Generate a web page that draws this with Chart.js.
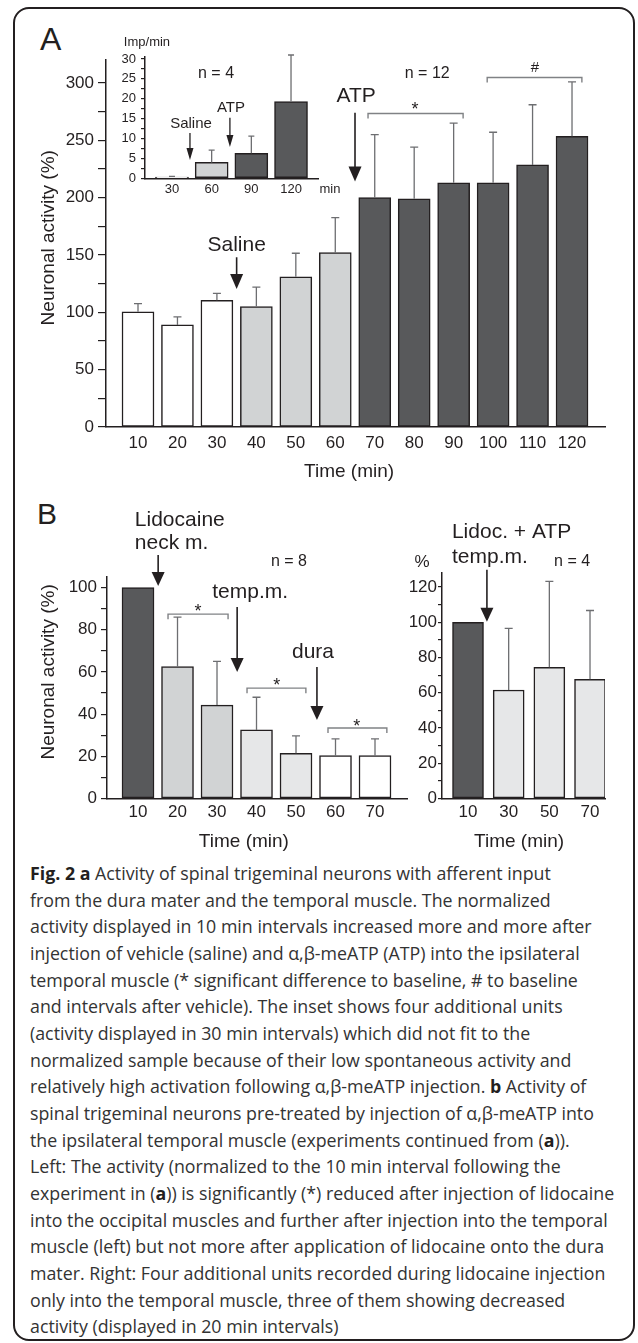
<!DOCTYPE html>
<html>
<head>
<meta charset="utf-8">
<script src="https://cdn.jsdelivr.net/npm/chart.js@4.4.1/dist/chart.umd.min.js"></script>
<style>
  html, body { margin: 0; padding: 0; background: #fff; }
  #fig { position: relative; width: 638px; height: 1343px; overflow: hidden; }
  #frame { position: absolute; left: 13px; top: 7px; width: 618px; height: 1330px;
           border: 2px solid #231f20; border-radius: 16px; }
  canvas { position: absolute; }
  .tag { position: absolute; font-family: "Liberation Sans", Arial, sans-serif;
         color: #231f20; line-height: 1; }
  #caption { position: absolute; left: 30px; top: 860px; font-family: "Open Sans", sans-serif;
             font-size: 17.8px; line-height: 26.67px; color: #333; white-space: nowrap; }
  #caption b { color: #231f20; }
</style>
</head>
<body>
<div id="fig">
  <div id="frame"></div>
  <div class="tag" style="left:40px;top:23px;font-size:32px;">A</div>
  <div class="tag" style="left:37px;top:499px;font-size:30px;">B</div>
  <canvas id="chartA" width="638" height="490" style="left:0;top:0"></canvas>
  <canvas id="chartInset" width="240" height="175" style="left:100px;top:30px"></canvas>
  <canvas id="chartBL" width="420" height="370" style="left:0;top:490px"></canvas>
  <canvas id="chartBR" width="238" height="370" style="left:400px;top:490px"></canvas>
  <div id="caption">
    <div><b>Fig. 2 a</b> Activity of spinal trigeminal neurons with afferent input</div>
    <div>from the dura mater and the temporal muscle. The normalized</div>
    <div>activity displayed in 10 min intervals increased more and more after</div>
    <div>injection of vehicle (saline) and α,β-meATP (ATP) into the ipsilateral</div>
    <div>temporal muscle (* significant difference to baseline, # to baseline</div>
    <div>and intervals after vehicle). The inset shows four additional units</div>
    <div>(activity displayed in 30 min intervals) which did not fit to the</div>
    <div>normalized sample because of their low spontaneous activity and</div>
    <div>relatively high activation following α,β-meATP injection. <b>b</b> Activity of</div>
    <div>spinal trigeminal neurons pre-treated by injection of α,β-meATP into</div>
    <div>the ipsilateral temporal muscle (experiments continued from (<b>a</b>)).</div>
    <div>Left: The activity (normalized to the 10 min interval following the</div>
    <div>experiment in (<b>a</b>)) is significantly (*) reduced after injection of lidocaine</div>
    <div>into the occipital muscles and further after injection into the temporal</div>
    <div>muscle (left) but not more after application of lidocaine onto the dura</div>
    <div>mater. Right: Four additional units recorded during lidocaine injection</div>
    <div>only into the temporal muscle, three of them showing decreased</div>
    <div>activity (displayed in 20 min intervals)</div>
  </div>
</div>
<script>
// panel A: normalized activity, 10 min intervals
const timesA = [10, 20, 30, 40, 50, 60, 70, 80, 90, 100, 110, 120];
const activityA = [100.5, 89, 110.5, 105, 131, 152, 200, 199, 213, 213, 228.5, 253.5];
const sdA = [7, 7, 6, 17, 20.5, 30.5, 55, 45, 52, 44, 52.5, 47.5];
const phaseA = ['base', 'base', 'base', 'saline', 'saline', 'saline', 'atp', 'atp', 'atp', 'atp', 'atp', 'atp'];
const yTicksA = [0, 50, 100, 150, 200, 250, 300];

// inset: imp/min, 30 min intervals
const timesInset = [30, 60, 90, 120];
const impInset = [0.3, 4.0, 6.3, 19.3];
const sdInset = [0.2, 3.1, 4.3, 11.7];
const phaseInset = ['base', 'saline', 'atp', 'atp'];
const yTicksInset = [0, 5, 10, 15, 20, 25, 30];

// panel B left: lidocaine, n = 8
const timesBL = [10, 20, 30, 40, 50, 60, 70];
const activityBL = [100, 62.5, 44.3, 32.5, 21.4, 20.3, 20.3];
const sdBL = [0, 23.5, 20.7, 15.5, 8.3, 8, 8];
const phaseBL = ['atp', 'neck', 'neck', 'temp', 'temp', 'dura', 'dura'];
const yTicksBL = [0, 20, 40, 60, 80, 100];

// panel B right: lidocaine temp. m. only, n = 4
const timesBR = [10, 30, 50, 70];
const activityBR = [100, 61.6, 74.5, 67.7];
const sdBR = [0, 35, 48.7, 39];
const phaseBR = ['atp', 'temp', 'temp', 'temp'];
const yTicksBR = [0, 20, 40, 60, 80, 100, 120];

const INK = '#231f20';
const ERR = '#6d6e71';
const BRK = '#808285';
const FILL = { base: '#ffffff', saline: '#d1d3d4', atp: '#58595b', neck: '#d1d3d4', temp: '#e6e7e8', dura: '#ffffff' };
const FONT = "'Liberation Sans', Arial, sans-serif";

Chart.defaults.font.family = FONT;
Chart.defaults.color = INK;

function errorBars(sd, cap) {
  return {
    id: 'errorBars',
    afterDatasetsDraw(chart) {
      const { ctx, scales: { y } } = chart;
      const pts = chart.data.datasets[0].data;
      ctx.save();
      ctx.strokeStyle = ERR;
      ctx.lineWidth = 1.3;
      chart.getDatasetMeta(0).data.forEach((bar, i) => {
        if (!sd[i]) return;
        const top = y.getPixelForValue(pts[i].y + sd[i]);
        ctx.beginPath();
        ctx.moveTo(bar.x, bar.y);
        ctx.lineTo(bar.x, top);
        ctx.moveTo(bar.x - cap / 2, top);
        ctx.lineTo(bar.x + cap / 2, top);
        ctx.stroke();
      });
      ctx.restore();
    }
  };
}

// labels, arrows and brackets placed in data units through the chart's scales
function notes(items) {
  return {
    id: 'notes',
    afterDraw(chart) {
      const { ctx, scales: { x, y } } = chart;
      items.forEach(n => {
        ctx.save();
        if (n.kind === 'text') {
          const px = x.getPixelForValue(n.x) + (n.dx || 0);
          const py = y.getPixelForValue(n.y) + (n.dy || 0);
          ctx.font = n.size + 'px ' + FONT;
          ctx.fillStyle = INK;
          ctx.textAlign = n.align || 'center';
          ctx.textBaseline = 'middle';
          ctx.translate(px, py);
          if (n.rotate) ctx.rotate(n.rotate * Math.PI / 180);
          ctx.fillText(n.text, 0, 0);
        } else if (n.kind === 'arrow') {
          const px = x.getPixelForValue(n.x);
          const y1 = y.getPixelForValue(n.from), y2 = y.getPixelForValue(n.to);
          const [hw, hh] = n.head;
          ctx.strokeStyle = INK;
          ctx.fillStyle = INK;
          ctx.lineWidth = n.lw || 1.6;
          ctx.beginPath();
          ctx.moveTo(px, y1);
          ctx.lineTo(px, y2 - hh + 1);
          ctx.stroke();
          ctx.beginPath();
          ctx.moveTo(px - hw / 2, y2 - hh);
          ctx.lineTo(px + hw / 2, y2 - hh);
          ctx.lineTo(px, y2);
          ctx.closePath();
          ctx.fill();
        } else if (n.kind === 'bracket') {
          const x1 = x.getPixelForValue(n.x1), x2 = x.getPixelForValue(n.x2);
          const py = y.getPixelForValue(n.y);
          ctx.strokeStyle = BRK;
          ctx.lineWidth = 1.4;
          ctx.beginPath();
          ctx.moveTo(x1, py + 5);
          ctx.lineTo(x1, py);
          ctx.lineTo(x2, py);
          ctx.lineTo(x2, py + 5);
          ctx.stroke();
        }
        ctx.restore();
      });
    }
  };
}

function panel(id, o) {
  return new Chart(document.getElementById(id), {
    type: 'bar',
    data: {
      datasets: [{
        data: o.times.map((t, i) => ({ x: t, y: o.values[i] })),
        backgroundColor: o.phase.map(p => FILL[p]),
        borderColor: INK,
        borderWidth: 1.5,
        borderSkipped: false,
        barThickness: o.bar
      }]
    },
    options: {
      responsive: false,
      animation: false,
      layout: { padding: o.pad },
      plugins: { legend: { display: false }, tooltip: { enabled: false } },
      scales: {
        x: {
          type: 'linear', min: o.xMin, max: o.xMax, offset: false,
          afterBuildTicks: s => { s.ticks = o.times.map(v => ({ value: v })); },
          afterFit: s => { s.height = o.xH; },
          grid: { display: false, drawTicks: false, offset: false },
          border: { color: INK, width: 1.5 },
          ticks: { autoSkip: false, maxRotation: 0, padding: o.xPad, font: { size: o.tick }, color: INK }
        },
        y: {
          min: 0, max: o.yMax,
          afterBuildTicks: s => {
            const top = o.yTicks[o.yTicks.length - 1], list = [];
            for (let v = 0; v <= top + 1e-6; v += o.minor) list.push({ value: +v.toFixed(2) });
            s.ticks = list;
          },
          afterFit: s => { s.width = o.yW; },
          grid: { drawOnChartArea: false, tickLength: o.tl, color: INK, lineWidth: 1.2 },
          border: { color: INK, width: 1.5 },
          ticks: {
            autoSkip: false, padding: o.yPad, font: { size: o.tick }, color: INK,
            callback: v => (o.yTicks.includes(v) ? String(v) : '')
          }
        }
      }
    },
    plugins: [errorBars(o.sd, o.cap), notes(o.notes)]
  });
}

panel('chartA', {
  times: timesA, values: activityA, sd: sdA, phase: phaseA, yTicks: yTicksA,
  xMin: 1.89, xMax: 128.36, yMax: 320, minor: 25,
  pad: { left: 30, right: 33, top: 60, bottom: 0 }, yW: 76, xH: 63,
  bar: 32, cap: 8, tick: 17, tl: 8, yPad: 4, xPad: 6,
  notes: [
    { kind: 'text', text: 'Neuronal activity (%)', x: 1.89, dx: -57, y: 165, rotate: -90, size: 19 },
    { kind: 'text', text: 'Time (min)', x: 63.5, y: 0, dy: 44.3, size: 19 },
    { kind: 'text', text: 'Saline', x: 35, y: 158.8, size: 21 },
    { kind: 'arrow', x: 35, from: 148, to: 120.3, head: [13, 15] },
    { kind: 'text', text: 'ATP', x: 65.3, y: 288, size: 21 },
    { kind: 'arrow', x: 65, from: 274, to: 214, head: [13, 15] },
    { kind: 'text', text: 'n = 12', x: 83.3, y: 308, size: 16 },
    { kind: 'bracket', x1: 68.3, x2: 92.4, y: 273.3 },
    { kind: 'text', text: '*', x: 80.2, y: 276.8, size: 18 },
    { kind: 'bracket', x1: 98.5, x2: 122.5, y: 304.7 },
    { kind: 'text', text: '#', x: 110.6, y: 313, size: 15 }
  ]
});

panel('chartInset', {
  times: timesInset, values: impInset, sd: sdInset, phase: phaseInset, yTicks: yTicksInset,
  xMin: 9.6, xMax: 140.4, yMax: 30.5, minor: 2.5,
  pad: { left: 0, right: 22, top: 27, bottom: 0 }, yW: 45, xH: 26.7,
  bar: 33, cap: 6, tick: 13, tl: 4, yPad: 5, xPad: 3,
  notes: [
    { kind: 'text', text: 'Imp/min', x: 11.1, y: 34.1, size: 13 },
    { kind: 'text', text: 'n = 4', x: 63.3, y: 26.3, size: 16 },
    { kind: 'text', text: 'Saline', x: 44.4, y: 13.7, size: 15 },
    { kind: 'arrow', x: 43.6, from: 11.4, to: 4.6, head: [7, 12], lw: 1.3 },
    { kind: 'text', text: 'ATP', x: 74.6, y: 17.7, size: 15 },
    { kind: 'arrow', x: 73.8, from: 15.2, to: 7.9, head: [7, 12], lw: 1.3 },
    { kind: 'text', text: 'min', x: 141.5, y: -2.7, size: 13, align: 'left' }
  ]
});

panel('chartBL', {
  times: timesBL, values: activityBL, sd: sdBL, phase: phaseBL, yTicks: yTicksBL,
  xMin: 2.15, xMax: 78.1, yMax: 105, minor: 10,
  pad: { left: 30, right: 13, top: 87, bottom: 0 }, yW: 77, xH: 61.5,
  bar: 32, cap: 8, tick: 17, tl: 6, yPad: 4, xPad: 4,
  notes: [
    { kind: 'text', text: 'Neuronal activity (%)', x: 2.15, dx: -58, y: 60, rotate: -90, size: 19 },
    { kind: 'text', text: 'Time (min)', x: 36.8, y: 0, dy: 43.5, size: 19 },
    { kind: 'text', text: 'Lidocaine', x: 9.2, y: 132, size: 21, align: 'left' },
    { kind: 'text', text: 'neck m.', x: 9.2, y: 121.1, size: 21, align: 'left' },
    { kind: 'arrow', x: 15.1, from: 115.4, to: 100.7, head: [13, 14] },
    { kind: 'text', text: 'n = 8', x: 48.2, y: 112.1, size: 16 },
    { kind: 'text', text: 'temp.m.', x: 38.4, y: 97.9, size: 21 },
    { kind: 'arrow', x: 35.1, from: 90.8, to: 60, head: [13, 14] },
    { kind: 'bracket', x1: 17.6, x2: 32.8, y: 87.4 },
    { kind: 'text', text: '*', x: 25.2, y: 88.4, size: 18 },
    { kind: 'text', text: 'dura', x: 54.3, y: 69.4, size: 21 },
    { kind: 'arrow', x: 55.3, from: 62.3, to: 37.2, head: [13, 14] },
    { kind: 'bracket', x1: 37.6, x2: 52.5, y: 52.3 },
    { kind: 'text', text: '*', x: 45.1, y: 53.1, size: 18 },
    { kind: 'bracket', x1: 58.1, x2: 73, y: 33.4 },
    { kind: 'text', text: '*', x: 65.4, y: 34.1, size: 18 }
  ]
});

panel('chartBR', {
  times: timesBR, values: activityBR, sd: sdBR, phase: phaseBR, yTicks: yTicksBR,
  xMin: -2.79, xMax: 77.37, yMax: 128, minor: 10,
  pad: { left: 0, right: 33, top: 83, bottom: 0 }, yW: 42, xH: 61.5,
  bar: 31, cap: 8, tick: 17, tl: 4, yPad: 1, xPad: 4,
  notes: [
    { kind: 'text', text: 'Time (min)', x: 35.1, y: 0, dy: 43.5, size: 19 },
    { kind: 'text', text: 'Lidoc. + ATP', x: 2.1, y: 151.4, size: 21, align: 'left' },
    { kind: 'text', text: 'temp.m.', x: 2.1, y: 137.2, size: 21, align: 'left' },
    { kind: 'text', text: '%', x: -12.6, y: 134, size: 17 },
    { kind: 'text', text: 'n = 4', x: 61.2, y: 134.4, size: 16 },
    { kind: 'arrow', x: 19.3, from: 129.8, to: 100.3, head: [13, 14] }
  ]
});
</script>
</body>
</html>
